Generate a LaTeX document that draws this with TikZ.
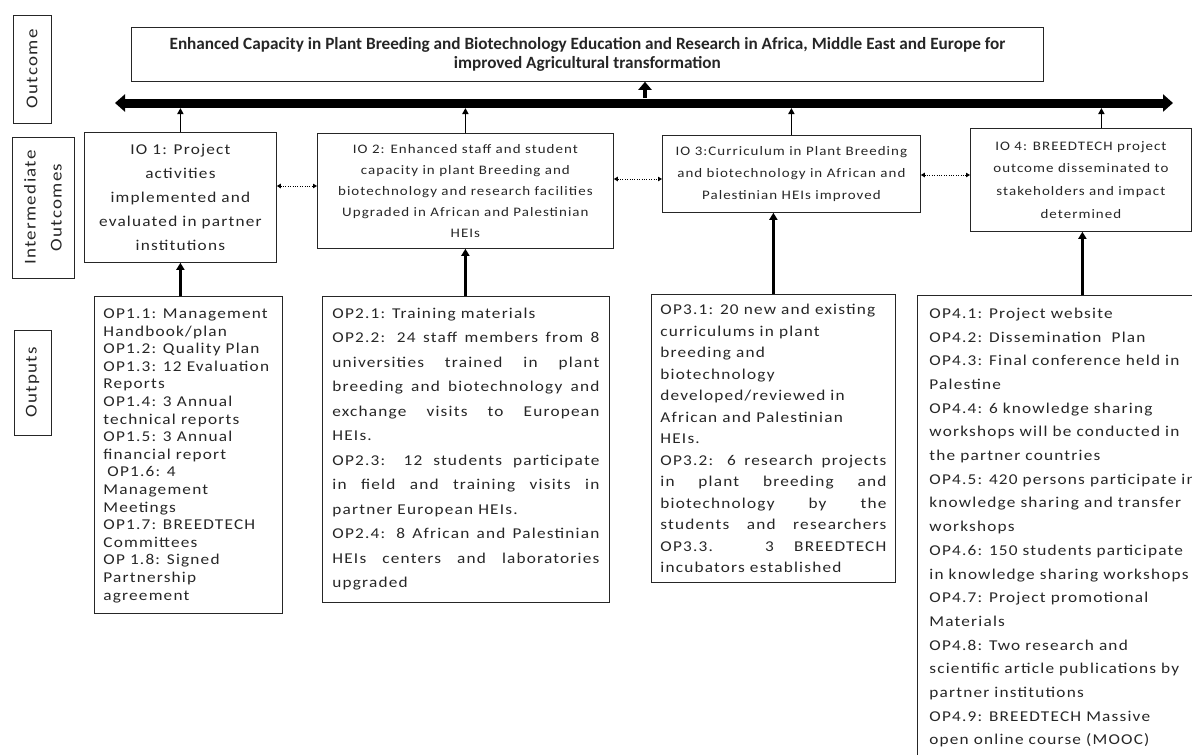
\documentclass[tikz,border=0pt]{standalone}
\usepackage{fontspec}
\setmainfont{Carlito}
\newfontfamily\opfont[FakeStretch=1.15,LetterSpace=8]{Carlito}
\usetikzlibrary{arrows.meta}
\newcommand{\jl}[2]{\makebox[#1][s]{#2}}
\begin{document}
\begin{tikzpicture}[x=1pt,y=-1pt,
  box/.style={draw=black!85, line width=0.8pt, inner sep=0pt, text=black!85},
  lab/.style={box, rotate=90, align=center, font=\fontsize{16.5}{26}\opfont},
  iobox/.style={box, anchor=north west, align=center},
  opbox/.style={box, anchor=north west},
  bar/.style={line width=9pt, {Triangle[length=10pt,width=17pt]}-{Triangle[length=10pt,width=17pt]}},
  bigarr/.style={line width=4pt, -{Triangle[length=8pt,width=13pt]}},
  uparr/.style={line width=1.8pt, -{Triangle[length=6pt,width=6pt]}},
  oparr/.style={line width=3pt, -{Triangle[length=7pt,width=8pt]}},
  dotarr/.style={line width=0.9pt, dash pattern=on 1pt off 1.4pt, {Triangle[length=4pt,width=4.5pt]}-{Triangle[length=4pt,width=4.5pt]}}
]
\useasboundingbox (0,0) rectangle (1192,755);
\clip (0,0) rectangle (1192,755);

% side labels
\node[lab, minimum width=108, minimum height=38] (lout) at (32,69) {Outcome};
\node[lab, minimum width=141, minimum height=62] (lint) at (43,207.5) {Intermediate\\Outcomes};
\node[lab, minimum width=105, minimum height=37] (lop) at (32.5,382.5) {Outputs};

% top outcome
\node[box, anchor=north west, minimum width=912, minimum height=54, align=center,
  font=\bfseries\fontsize{17.2}{19}\selectfont] (top) at (131,27)
  {Enhanced Capacity in Plant Breeding and Biotechnology Education and Research in Africa, Middle East and Europe for\\improved Agricultural transformation};

% thick bar
\coordinate (bl) at (115,103);
\coordinate (br) at (1173,103);
\draw[bar] (bl) -- (br);
\coordinate (mid) at (645,98);
\draw[bigarr] (mid) -- (mid |- top.south);
\coordinate (bb) at (0,108);

% intermediate outcomes
\node[iobox, minimum width=192, minimum height=130, font=\fontsize{15}{24}\opfont] (io1) at (84,132)
  {IO 1: Project\\activities\\implemented and\\evaluated in partner\\institutions};
\node[iobox, minimum width=296, minimum height=115, font=\fontsize{13}{21}\opfont] (io2) at (317,133)
  {IO 2: Enhanced staff and student\\capacity in plant Breeding and\\biotechnology and research facilities\\Upgraded in African and Palestinian\\HEIs};
\node[iobox, minimum width=258, minimum height=77, font=\fontsize{13}{22}\opfont] (io3) at (662,135)
  {IO 3:Curriculum in Plant Breeding\\and biotechnology in African and\\Palestinian HEIs improved};
\node[iobox, minimum width=221, minimum height=103, font=\fontsize{13}{22.7}\opfont] (io4) at (970,128)
  {IO 4: BREEDTECH project\\outcome disseminated to\\stakeholders and impact\\determined};

\draw[uparr] (io1.north) -- (io1.north |- bb);
\draw[uparr] (io2.north) -- (io2.north |- bb);
\draw[uparr] (io3.north) -- (io3.north |- bb);
\draw[uparr] ([xshift=20.5pt]io4.north) -- ([xshift=20.5pt]io4.north |- bb);

\coordinate (d1) at (0,186);
\coordinate (d2) at (0,179);
\coordinate (d3) at (0,175);
\draw[dotarr] (io1.east |- d1) -- (io2.west |- d1);
\draw[dotarr] (io2.east |- d2) -- (io3.west |- d2);
\draw[dotarr] (io3.east |- d3) -- (io4.west |- d3);

% outputs
\node[opbox, minimum width=188, minimum height=317] (op1) at (94,296)
  {\parbox[c][317pt][t]{170pt}{\fontsize{15}{17.6}\opfont\vspace*{9.7pt}%
  \begin{tabular}[t]{@{}l@{}}
  OP1.1: Management\\
  Handbook/plan\\
  OP1.2: Quality Plan\\
  OP1.3: 12 Evaluation\\
  Reports\\
  OP1.4: 3 Annual\\
  technical reports\\
  OP1.5: 3 Annual\\
  financial report\\
  \hspace{4pt}OP1.6: 4\\
  Management\\
  Meetings\\
  OP1.7: BREEDTECH\\
  Committees\\
  OP 1.8: Signed\\
  Partnership\\
  agreement
  \end{tabular}}};

\node[opbox, minimum width=287, minimum height=306] (op2) at (322,296)
  {\parbox[c][306pt][t]{267pt}{\fontsize{15}{24.5}\opfont\vspace*{4.8pt}%
  \begin{tabular}[t]{@{}l@{}}
  OP2.1: Training materials\\
  \jl{267pt}{OP2.2: 24 staff members from 8}\\
  \jl{267pt}{universities trained in plant}\\
  \jl{267pt}{breeding and biotechnology and}\\
  \jl{267pt}{exchange visits to European}\\
  HEIs.\\
  \jl{267pt}{OP2.3: 12 students participate}\\
  \jl{267pt}{in field and training visits in}\\
  partner European HEIs.\\
  \jl{267pt}{OP2.4: 8 African and Palestinian}\\
  \jl{267pt}{HEIs centers and laboratories}\\
  upgraded
  \end{tabular}}};

\node[opbox, minimum width=244, minimum height=288] (op3) at (651,294)
  {\parbox[c][288pt][t]{226pt}{\fontsize{15}{21.5}\opfont\vspace*{5.5pt}%
  \begin{tabular}[t]{@{}l@{}}
  OP3.1: 20 new and existing\\
  curriculums in plant\\
  breeding and\\
  biotechnology\\
  developed/reviewed in\\
  African and Palestinian\\
  HEIs.\\
  \jl{226pt}{OP3.2: 6 research projects}\\
  \jl{226pt}{in plant breeding and}\\
  \jl{226pt}{biotechnology by the}\\
  \jl{226pt}{students and researchers}\\
  \jl{226pt}{OP3.3. 3 BREEDTECH}\\
  incubators established
  \end{tabular}}};

\node[opbox, minimum width=330, minimum height=470] (op4) at (917,295)
  {\parbox[c][470pt][t]{306pt}{\fontsize{15}{23.7}\opfont\vspace*{6.4pt}%
  \begin{tabular}[t]{@{}l@{}}
  OP4.1: Project website\\
  OP4.2: Dissemination~~Plan\\
  OP4.3: Final conference held in\\
  Palestine\\
  OP4.4: 6 knowledge sharing\\
  workshops will be conducted in\\
  the partner countries\\
  OP4.5: 420 persons participate in\\
  knowledge sharing and transfer\\
  workshops\\
  OP4.6: 150 students participate\\
  in knowledge sharing workshops\\
  OP4.7: Project promotional\\
  Materials\\
  OP4.8: Two research and\\
  scientific article publications by\\
  partner institutions\\
  OP4.9: BREEDTECH Massive\\
  open online course (MOOC)
  \end{tabular}}};

\draw[oparr] (io1.south |- op1.north) -- (io1.south);
\draw[oparr] (io2.south |- op2.north) -- (io2.south);
\draw[oparr] (op3.north) -- (op3.north |- io3.south);
\draw[oparr] (op4.north) -- (op4.north |- io4.south);
\end{tikzpicture}
\end{document}
